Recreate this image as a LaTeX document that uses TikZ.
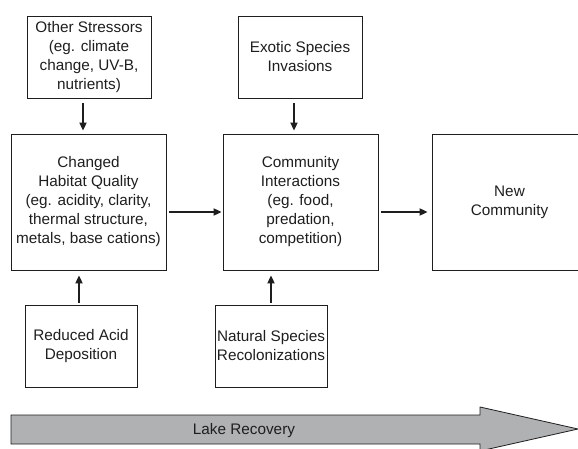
\documentclass[tikz,border=0pt]{standalone}
\usepackage{xcolor}
\usepackage{tikz}
\usepackage{fontspec}
\setmainfont{Liberation Sans}
\usetikzlibrary{arrows.meta}
\usetikzlibrary{calc}
\definecolor{lakegray}{RGB}{176,177,179}
\definecolor{inkgray}{RGB}{30,30,30}

\begin{document}
\begin{tikzpicture}[x=1pt, y=-1pt,
                box/.style={draw=inkgray, line width=0.8pt, align=center, inner sep=0pt,
                            font=\fontsize{15.3}{19}\selectfont, text=inkgray},
                flow/.style={draw=inkgray, line width=1.8pt, -{Triangle[length=8pt,width=7pt]}}]
                \useasboundingbox (0,0) rectangle (578,449);
                % Top row
                \node[box, minimum width=124pt, minimum height=82pt] (stress) at (89,57)
                    {Other Stressors\\(eg. climate\\change, UV-B,\\nutrients)};
                \node[box, minimum width=124pt, minimum height=82pt] (exotic) at (300,57)
                    {Exotic Species\\Invasions};
                % Middle row
                \node[box, minimum width=155pt, minimum height=136pt] (habitat) at (88.5,202)
                    {Changed\\Habitat Quality\\(eg. acidity, clarity,\\thermal structure,\\metals, base cations)};
                \node[box, minimum width=155pt, minimum height=136pt] (interact) at (300.5,202)
                    {Community\\Interactions\\(eg. food,\\predation,\\competition)};
                \node[box, minimum width=155pt, minimum height=136pt] (newcomm) at (509.5,202)
                    {New\\Community};
                % Bottom row
                \node[box, minimum width=112pt, minimum height=82pt] (reduced) at (81,346)
                    {Reduced Acid\\Deposition};
                \node[box, minimum width=112pt, minimum height=82pt] (natural) at (271,346)
                    {Natural Species\\Recolonizations};
                % Arrows down
                \draw[flow, shorten <=5pt, shorten >=3pt] ([xshift=-6pt]stress.south) -- ([xshift=-6pt]stress.south |- habitat.north);
                \draw[flow, shorten <=5pt, shorten >=3pt] ([xshift=-6pt]exotic.south) -- ([xshift=-6pt]exotic.south |- interact.north);
                % Arrows up
                \draw[flow, shorten <=2pt, shorten >=5pt] ([xshift=-2pt]reduced.north) -- ([xshift=-2pt]reduced.north |- habitat.south);
                \draw[flow, shorten <=2pt, shorten >=5pt] (natural.north) -- (natural.north |- interact.south);
                % Arrows across
                \draw[flow, shorten <=3pt, shorten >=1pt] ([yshift=-10pt]habitat.east) -- ([yshift=-10pt]habitat.east -| interact.west);
                \draw[flow, shorten <=3pt, shorten >=4pt] ([yshift=-10pt]interact.east) -- ([yshift=-10pt]interact.east -| newcomm.west);
                % Lake recovery
                \fill[lakegray, draw=inkgray, line width=0.8pt]
                    (11,415) -- (480,415) -- (480,407) -- (578,429) -- (480,451) -- (480,444) -- (11,444) -- cycle;
                \node[font=\fontsize{15.3}{19}\selectfont, text=inkgray] (recovery) at (244,431) {Lake Recovery};
            \end{tikzpicture}
\end{document}
